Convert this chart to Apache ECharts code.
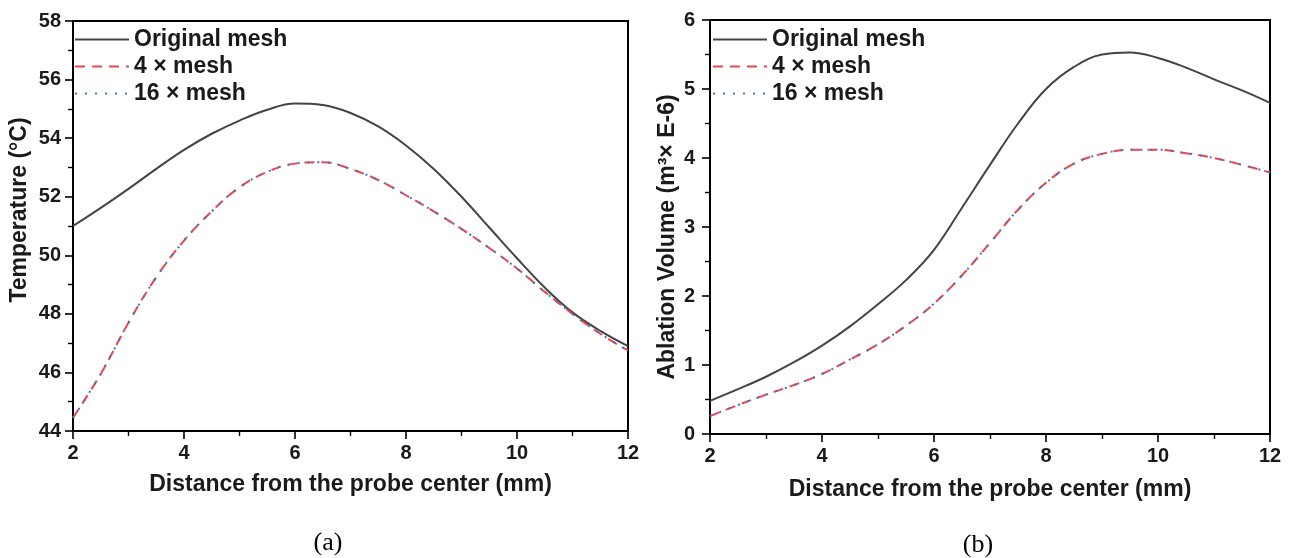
<!DOCTYPE html>
<html>
<head>
<meta charset="utf-8">
<script src="https://cdn.jsdelivr.net/npm/echarts@6/dist/echarts.min.js"></script>
<style>
html,body{margin:0;padding:0;background:#fff;}
#c{width:1290px;height:558px;}
</style>
</head>
<body>
<div id="c"></div>
<script>
// ---- Data ----
const xValues = [2,2.5,3,3.5,4,4.5,5,5.5,6,6.5,7,7.5,8,8.5,9,9.5,10,10.5,11,11.5,12];

// (a) Temperature (°C)
const tempOriginal = [51.0,51.62,52.27,52.95,53.6,54.15,54.6,54.97,55.18,55.13,54.86,54.4,53.75,52.95,52.0,50.95,49.9,48.9,48.05,47.42,46.9];
const temp4x       = [44.45,45.95,47.7,49.25,50.5,51.5,52.32,52.85,53.13,53.18,52.95,52.57,52.05,51.5,50.9,50.25,49.55,48.75,48.0,47.32,46.75];
const temp16x      = [44.45,45.95,47.7,49.25,50.5,51.5,52.32,52.85,53.13,53.18,52.95,52.57,52.05,51.5,50.9,50.25,49.55,48.75,48.0,47.32,46.75];

// (b) Ablation volume (m³ × E-6)
const volOriginal = [0.48,0.65,0.83,1.04,1.28,1.56,1.88,2.23,2.67,3.28,3.9,4.5,5.0,5.32,5.5,5.53,5.45,5.31,5.14,4.98,4.8];
const vol4x       = [0.26,0.42,0.57,0.71,0.87,1.08,1.3,1.57,1.89,2.3,2.77,3.25,3.64,3.92,4.06,4.12,4.12,4.07,4.0,3.9,3.79];
const vol16x      = [0.26,0.42,0.57,0.71,0.87,1.08,1.3,1.57,1.89,2.3,2.77,3.25,3.64,3.92,4.06,4.12,4.12,4.07,4.0,3.9,3.79];

const seriesNames = ['Original mesh','4 \u00d7 mesh','16 \u00d7 mesh'];
const xTitle = 'Distance from the probe center (mm)';
const yTitleA = 'Temperature (\u00b0C)';
const yTitleB = 'Ablation Volume (m\u00b3\u00d7 E-6)';
const captions = ['(a)','(b)'];

// ---- Chart ----
const pair = ys => xValues.map((x,i)=>[x, ys[i]]);
const FONT = '"Liberation Sans", Arial, sans-serif';
const styles = [
  {color:'#444444', width:2, type:'solid'},
  {color:'#e8474f', width:2, type:[10,7]},
  {color:'#3d78c8', width:2, type:[2,8]}
];

function mkSeries(name, idx, data, styleIdx){
  const s = styles[styleIdx];
  return {
    name, type:'line', xAxisIndex:idx, yAxisIndex:idx,
    data: pair(data), showSymbol:false, symbol:'none', smooth:0.4,
    lineStyle:{color:s.color, width:s.width, type:s.type},
    itemStyle:{color:s.color},
    z: 2 + styleIdx
  };
}

function xAxis(gi){
  return {
    type:'value', gridIndex:gi, min:2, max:12, interval:2,
    name:xTitle, nameLocation:'middle', nameGap: gi===0?42:44,
    nameTextStyle:{fontFamily:FONT, fontWeight:'bold', fontSize:23, color:'#1a1a1a'},
    axisLine:{show:true, onZero:false, lineStyle:{color:'#000', width:2}},
    axisTick:{show:true, length:8, lineStyle:{color:'#000', width:1.6}},
    minorTick:{show:true, splitNumber:2, length:5, lineStyle:{color:'#000', width:1.4}},
    axisLabel:{fontFamily:FONT, fontWeight:'bold', fontSize:20, color:'#1a1a1a', margin:12},
    splitLine:{show:false}
  };
}
function yAxis(gi, min, max, interval, name, gap, margin, pad){
  return {
    type:'value', gridIndex:gi, min, max, interval,
    name, nameLocation:'middle', nameGap:gap,
    nameTextStyle:{fontFamily:FONT, fontWeight:'bold', fontSize:23, color:'#1a1a1a', padding:pad},
    axisLine:{show:true, onZero:false, lineStyle:{color:'#000', width:2}},
    axisTick:{show:true, length:8, lineStyle:{color:'#000', width:1.6}},
    minorTick:{show:true, splitNumber:2, length:5, lineStyle:{color:'#000', width:1.4}},
    axisLabel:{fontFamily:FONT, fontWeight:'bold', fontSize:20, color:'#1a1a1a', margin},
    splitLine:{show:false}
  };
}
function legend(left){
  return {
    left, top:23, orient:'vertical', itemWidth:54, itemHeight:14, itemGap:4,
    itemTextGap:5,
    itemStyle:{opacity:0},
    textStyle:{fontFamily:FONT, fontWeight:'bold', fontSize:23, color:'#1a1a1a', lineHeight:23},
    data: seriesNames
  };
}

const chart = echarts.init(document.getElementById('c'));
chart.setOption({
  backgroundColor:'#fff',
  animation:false,
  legend:[legend(69), legend(707)],
  grid:[
    {left:73, right:662, top:21, bottom:127, show:true, borderColor:'#000', borderWidth:2},
    {left:710, right:20, top:20, bottom:124, show:true, borderColor:'#000', borderWidth:2}
  ],
  xAxis:[xAxis(0), xAxis(1)],
  yAxis:[yAxis(0,44,58,2,yTitleA,42,12,[0,0,0,32]), yAxis(1,0,6,1,yTitleB,31,15,[0,20,0,0])],
  series:[
    mkSeries(seriesNames[0],0,tempOriginal,0),
    mkSeries(seriesNames[1],0,temp4x,1),
    mkSeries(seriesNames[2],0,temp16x,2),
    mkSeries(seriesNames[0],1,volOriginal,0),
    mkSeries(seriesNames[1],1,vol4x,1),
    mkSeries(seriesNames[2],1,vol16x,2)
  ],
  graphic:[
    {type:'text', x:328, y:543, style:{text:captions[0], font:'26px "Liberation Serif", "Times New Roman", serif', fill:'#000', textAlign:'center', textVerticalAlign:'middle'}},
    {type:'text', x:978, y:545, style:{text:captions[1], font:'26px "Liberation Serif", "Times New Roman", serif', fill:'#000', textAlign:'center', textVerticalAlign:'middle'}}
  ]
});
</script>
</body>
</html>
